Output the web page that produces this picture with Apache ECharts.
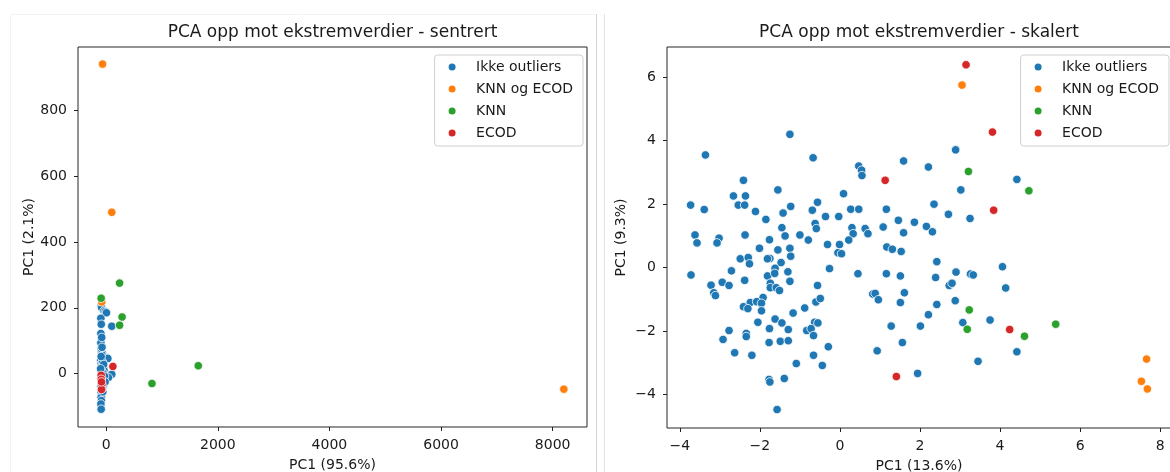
<!DOCTYPE html>
<html>
<head>
<meta charset="utf-8">
<script src="https://cdn.jsdelivr.net/npm/echarts@6/dist/echarts.min.js"></script>
<style>
  html, body { margin: 0; padding: 0; background: #ffffff; }
  #chart { width: 1170px; height: 472px; }
</style>
</head>
<body>
<div id="chart"></div>
<script>
// Group names and colours (legend order)
const groupNames = ['Ikke outliers', 'KNN og ECOD', 'KNN', 'ECOD'];
const groupColors = ['#1f77b4', '#ff7f0e', '#2ca02c', '#d62728'];

// Centred PCA scores [PC1, PC2]
const centredIkke = [
  [-90,205],[-80,200],[-40,190],[-15,188],[5,185],[-95,168],[100,144],[-95,122],[-95,94],[-90,75],
  [-85,66],[-70,62],[-60,55],[10,48],[30,46],[-95,40],[-90,30],[-80,22],[-60,15],[-40,10],
  [-90,8],[-70,3],[-85,-2],[100,-2],[40,-12],[-75,-10],[-60,-20],[-90,-25],[-70,-30],[-95,-38],
  [-55,-40],[-85,-48],[-90,-58],[-80,-65],[-90,-72],[-85,-82],[-95,-92],[-90,-108],[-75,-5],[-50,0],
  [-30,-8],[-65,35],[-45,28],[-20,-25],[-90,52],[-100,15],[-95,-15],[-60,-55],[-75,80],[-80,110],
  [-88,150],[-70,-45]
];
const centredKnnEcod = [[-65,940],[100,490],[-80,218],[8200,-47]];
const centredKnn = [[240,275],[-90,229],[285,172],[240,147],[820,-30],[1650,24]];
const centredEcod = [[-90,-5],[-88,-17],[-78,-33],[-84,-48],[120,22],[-85,-25]];

// Scaled PCA scores [PC1, PC2]
const scaledIkke = [
  [-3.36,3.55],[-1.25,4.20],[-0.67,3.46],[-3.73,1.97],[-3.39,1.83],[-3.62,1.03],[-3.57,0.78],[-3.02,0.93],[-3.07,0.78],[-3.72,-0.23],
  [-2.41,2.75],[-2.66,2.26],[-2.36,2.26],[-2.54,1.97],[-2.38,1.97],[-2.11,1.77],[-1.85,1.52],[-1.55,2.45],[-1.23,1.93],[-1.42,1.72],
  [-0.56,2.06],[-0.69,1.81],[-1.45,1.26],[-1.37,1.00],[-1.76,0.88],[-1.00,1.03],[-0.62,1.39],[-0.59,1.23],[-0.36,1.61],[-0.03,1.61],
  [0.09,2.33],[0.27,1.84],[0.47,1.84],[0.47,3.20],[0.54,3.07],[0.55,2.90],[0.30,1.26],[0.33,1.07],[0.22,0.87],[0.63,1.23],
  [0.70,1.07],[-0.79,0.87],[-0.31,0.73],[-0.01,0.73],[-0.05,0.47],[0.04,0.44],[-2.37,1.03],[-2.01,0.61],[-2.49,0.28],[-2.29,0.32],
  [-2.26,0.12],[-1.75,0.29],[-1.81,0.28],[-1.55,0.56],[-1.25,0.61],[-1.23,0.36],[-1.47,0.16],[-1.62,-0.02],[-2.71,-0.10],[-2.38,-0.40],
  [-2.94,-0.46],[-3.22,-0.55],[-3.15,-0.79],[-3.11,-0.88],[-2.77,-0.56],[-1.81,-0.26],[-1.63,-0.18],[-1.30,-0.13],[-1.25,-0.43],[-1.74,-0.49],
  [-1.74,-0.63],[-1.59,-0.63],[-1.51,-0.72],[-0.56,-0.56],[-0.26,-0.03],[-1.92,-0.94],[-2.24,-1.10],[-2.08,-1.07],[-1.96,-1.12],[-1.96,-1.36],
  [-2.41,-1.23],[-2.30,-1.29],[-2.05,-1.72],[-1.62,-1.62],[-1.45,-1.74],[-1.17,-1.43],[-0.88,-1.27],[-0.60,-1.08],[-0.49,-0.97],[-0.63,-1.72],
  [-0.55,-1.74],[-0.83,-1.98],[-0.72,-1.92],[-0.66,-2.14],[-1.76,-1.92],[-1.29,-1.95],[-2.77,-1.98],[-2.34,-2.07],[-2.34,-2.17],[-2.92,-2.26],
  [-2.63,-2.68],[-2.20,-2.76],[-1.77,-2.36],[-1.49,-2.32],[-1.29,-2.30],[-0.66,-2.76],[-0.29,-2.49],[-1.09,-3.02],[-0.44,-3.08],[-1.77,-3.52],
  [-1.75,-3.60],[-1.39,-3.49],[-1.57,-4.47],[0.45,-0.19],[1.16,-0.19],[1.51,-0.26],[1.16,1.84],[1.08,1.28],[1.17,0.65],[1.31,0.58],
  [1.53,0.51],[1.46,1.49],[1.59,1.10],[1.86,1.43],[1.59,3.36],[2.21,3.17],[2.35,2.00],[2.16,1.30],[2.31,1.13],[2.71,1.68],
  [2.89,3.71],[3.02,2.45],[3.25,1.55],[4.42,2.78],[2.42,0.19],[2.39,-0.31],[1.61,-0.79],[0.82,-0.83],[0.88,-0.81],[0.96,-1.01],
  [1.51,-1.10],[2.42,-1.16],[2.21,-1.48],[2.01,-1.84],[1.28,-1.84],[1.56,-2.36],[0.93,-2.62],[1.94,-3.33],[2.73,-0.56],[2.80,-0.49],
  [2.90,-0.14],[3.26,-0.20],[3.33,-0.23],[2.88,-1.04],[3.07,-1.73],[3.75,-1.65],[4.06,0.03],[4.14,-0.64],[4.42,-2.65],[3.45,-2.95]
];
const scaledKnnEcod = [[3.05,5.75],[7.66,-2.88],[7.53,-3.58],[7.68,-3.82]];
const scaledKnn = [[3.21,3.03],[4.72,2.42],[3.23,-1.33],[3.18,-1.94],[4.61,-2.16],[5.39,-1.78]];
const scaledEcod = [[3.15,6.39],[3.81,4.27],[3.84,1.81],[1.13,2.75],[4.24,-1.95],[1.41,-3.43]];

// Tick values
const centredXTicks = [0, 2000, 4000, 6000, 8000];
const centredYTicks = [0, 200, 400, 600, 800];
const scaledXTicks = [-4, -2, 0, 2, 4, 6, 8];
const scaledYTicks = [-4, -2, 0, 2, 4, 6];

// Panel titles and axis names
const titles = ['PCA opp mot ekstremverdier - sentrert', 'PCA opp mot ekstremverdier - skalert'];
const xNames = ['PC1 (95.6%)', 'PC1 (13.6%)'];
const yNames = ['PC1 (2.1%)', 'PC1 (9.3%)'];

const FONT = 'DejaVu Sans';
const INK = '#1a1a1a';

const fmt = v => String(v).replace('-', '\u2212');

function valueAxis(gridIndex, min, max, ticks, name, gap) {
  return {
    type: 'value', gridIndex, min, max,
    name, nameLocation: 'middle', nameGap: gap,
    nameTextStyle: { fontFamily: FONT, fontSize: 14, color: INK },
    axisLine: { show: false, onZero: false },
    axisTick: { show: true, length: 4, inside: false, customValues: ticks,
                lineStyle: { color: '#222', width: 1 } },
    axisLabel: { show: true, customValues: ticks, formatter: fmt, margin: 11,
                 fontFamily: FONT, fontSize: 14, color: INK },
    splitLine: { show: false }
  };
}

function scatter(name, color, data, idx) {
  return {
    type: 'scatter', name, data,
    xAxisIndex: idx, yAxisIndex: idx,
    symbol: 'circle', symbolSize: 8.5,
    itemStyle: { color, borderColor: '#ffffff', borderWidth: 0.8, opacity: 1 },
    emphasis: { disabled: true },
    silent: true
  };
}

function legendAt(right) {
  return {
    data: groupNames.map(n => ({ name: n, icon: 'circle' })),
    orient: 'vertical', right, top: 55,
    itemWidth: 14, itemHeight: 9, itemGap: 6,
    padding: [4, 10, 5, 12],
    backgroundColor: 'rgba(255,255,255,0.85)',
    borderColor: '#d0d0d0', borderWidth: 1, borderRadius: 3,
    textStyle: { fontFamily: FONT, fontSize: 14, color: INK, lineHeight: 16, padding: [0, 0, 0, 12] },
    selectedMode: false
  };
}

const groupsCentred = [centredIkke, centredKnnEcod, centredKnn, centredEcod];
const groupsScaled = [scaledIkke, scaledKnnEcod, scaledKnn, scaledEcod];

const chart = echarts.init(document.getElementById('chart'), null, { renderer: 'canvas' });

chart.setOption({
  animation: false,
  backgroundColor: '#ffffff',
  grid: [
    { left: 78, top: 47, width: 509, height: 380, outerBoundsMode: 'none', containLabel: false,
      show: true, borderColor: '#262626', borderWidth: 1, backgroundColor: 'transparent' },
    { left: 667, top: 47, width: 504, height: 381, outerBoundsMode: 'none', containLabel: false,
      show: true, borderColor: '#262626', borderWidth: 1, backgroundColor: 'transparent' }
  ],
  xAxis: [
    valueAxis(0, -505, 8615, centredXTicks, xNames[0], 31),
    valueAxis(1, -4.32, 8.27, scaledXTicks, xNames[1], 31)
  ],
  yAxis: [
    valueAxis(0, -162, 992, centredYTicks, yNames[0], 41),
    valueAxis(1, -5.05, 6.95, scaledYTicks, yNames[1], 39)
  ],
  legend: [legendAt(587), legendAt(1)],
  graphic: [
    // page frame lines
    { type: 'line', silent: true, shape: { x1: 10.5, y1: 14.5, x2: 596, y2: 14.5 }, style: { stroke: '#f3f3f3', lineWidth: 1 } },
    { type: 'line', silent: true, shape: { x1: 10.5, y1: 14.5, x2: 10.5, y2: 472 }, style: { stroke: '#f3f3f3', lineWidth: 1 } },
    { type: 'line', silent: true, shape: { x1: 596.5, y1: 14, x2: 596.5, y2: 472 }, style: { stroke: '#d4d4d4', lineWidth: 1 } },
    { type: 'line', silent: true, shape: { x1: 604.5, y1: 14, x2: 604.5, y2: 472 }, style: { stroke: '#e2e2e2', lineWidth: 1 } },
    // panel titles
    { type: 'text', silent: true, x: 332.5, y: 33,
      style: { text: titles[0], fontFamily: FONT, fontSize: 17, fill: INK, textAlign: 'center', textVerticalAlign: 'middle' } },
    { type: 'text', silent: true, x: 919, y: 33,
      style: { text: titles[1], fontFamily: FONT, fontSize: 17, fill: INK, textAlign: 'center', textVerticalAlign: 'middle' } }
  ],
  series: [
    ...groupNames.map((n, i) => scatter(n, groupColors[i], groupsCentred[i], 0)),
    ...groupNames.map((n, i) => scatter(n, groupColors[i], groupsScaled[i], 1))
  ]
});
</script>
</body>
</html>
